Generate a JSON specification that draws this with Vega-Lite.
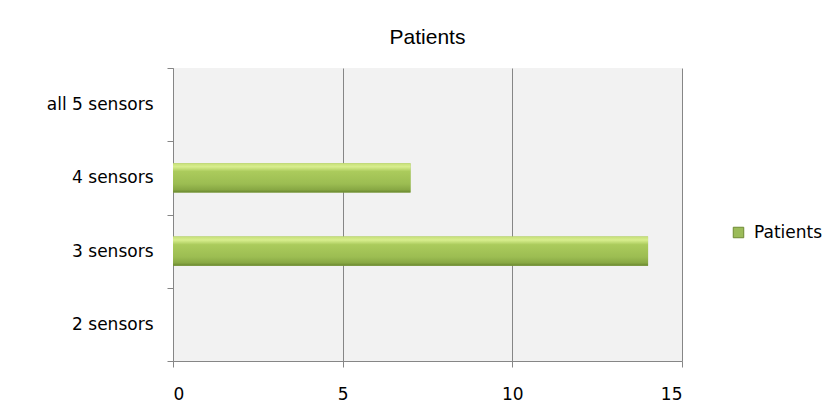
{
  "$schema": "https://vega.github.io/schema/vega-lite/v6.json",
  "autosize": "none",
  "width": 509,
  "height": 293,
  "padding": {"left": 173, "top": 68, "right": 156, "bottom": 55},
  "background": "#ffffff",
  "title": {
    "text": "Patients",
    "font": "Liberation Sans",
    "fontSize": 21,
    "fontWeight": "normal",
    "color": "#000000",
    "anchor": "middle",
    "offset": 11
  },
  "data": {
    "values": [
      {"group": "all 5 sensors", "series": "Patients", "patients": 0},
      {"group": "4 sensors", "series": "Patients", "patients": 7},
      {"group": "3 sensors", "series": "Patients", "patients": 14},
      {"group": "2 sensors", "series": "Patients", "patients": 0}
    ]
  },
  "encoding": {
    "y": {
      "field": "group",
      "type": "nominal",
      "sort": ["all 5 sensors", "4 sensors", "3 sensors", "2 sensors"],
      "scale": {"paddingInner": 0, "paddingOuter": 0},
      "axis": {
        "title": null,
        "tickBand": "extent",
        "domainColor": "#868686",
        "tickColor": "#868686",
        "tickSize": 6,
        "labelFont": "DejaVu Sans",
        "labelFontSize": 17,
        "labelColor": "#000000",
        "labelPadding": 14,
        "grid": false
      }
    },
    "x": {
      "field": "patients",
      "type": "quantitative",
      "scale": {"domain": [0, 15], "nice": false},
      "axis": {
        "title": null,
        "values": [0, 5, 10, 15],
        "domainColor": "#868686",
        "tickColor": "#868686",
        "tickSize": 6,
        "grid": true,
        "gridColor": "#868686",
        "gridWidth": 1,
        "labelFont": "DejaVu Sans",
        "labelFontSize": 17,
        "labelColor": "#000000",
        "labelPadding": 19
      }
    }
  },
  "layer": [
    {
      "mark": {"type": "bar", "height": {"band": 0.4}},
      "encoding": {
        "color": {
          "field": "series",
          "type": "nominal",
          "scale": {"range": ["#9bbb59"]},
          "legend": {
            "title": null,
            "orient": "none",
            "legendX": 557,
            "legendY": 156,
            "padding": 0,
            "symbolType": "square",
            "symbolSize": 110,
            "symbolStrokeColor": "#6f8a33",
            "symbolStrokeWidth": 1,
            "labelFont": "DejaVu Sans",
            "labelFontSize": 17,
            "labelColor": "#000000",
            "labelOffset": 7
          }
        }
      }
    },
    {
      "mark": {
        "type": "bar",
        "height": {"band": 0.4},
        "strokeWidth": 0,
        "fill": {
          "gradient": "linear",
          "x1": 0, "y1": 0, "x2": 0, "y2": 1,
          "stops": [
            {"offset": 0, "color": "#c6df78"},
            {"offset": 0.12, "color": "#d8ee8e"},
            {"offset": 0.28, "color": "#abcb5c"},
            {"offset": 0.7, "color": "#9cbd52"},
            {"offset": 0.9, "color": "#88a844"},
            {"offset": 1, "color": "#68862e"}
          ]
        }
      },
      "encoding": {}
    }
  ],
  "config": {
    "view": {"fill": "#f2f2f2", "stroke": null}
  }
}
